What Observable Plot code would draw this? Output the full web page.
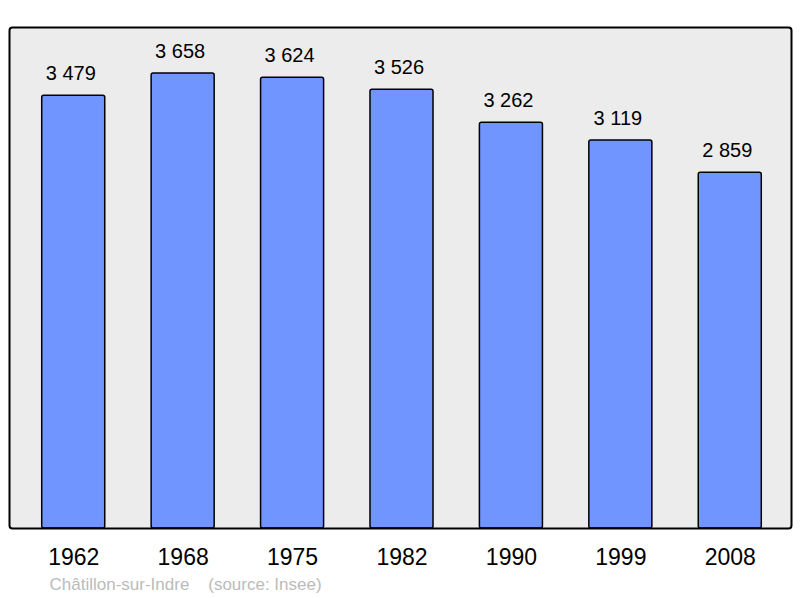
<!DOCTYPE html>
<html>
<head>
<meta charset="utf-8">
<script src="https://cdn.jsdelivr.net/npm/d3@7"></script>
<script src="https://cdn.jsdelivr.net/npm/@observablehq/plot@0.6"></script>
<style>
  html, body { margin: 0; padding: 0; background: #ffffff; }
  body { width: 800px; height: 598px; overflow: hidden; }
  svg { display: block; }
</style>
</head>
<body>
<div id="chart"></div>
<script>
const years = ["1962", "1968", "1975", "1982", "1990", "1999", "2008"];
const population = [3479, 3658, 3624, 3526, 3262, 3119, 2859];
const captionText = "Châtillon-sur-Indre\u00a0\u00a0\u00a0\u00a0(source: Insee)";

const data = years.map((y, i) => ({year: y, value: population[i]}));
const fmt = d3.formatLocale({thousands: "\u00a0", grouping: [3], decimal: ","}).format(",d");

const chart = Plot.plot({
  width: 800,
  height: 598,
  marginLeft: 9,
  marginRight: 9,
  marginTop: 27,
  marginBottom: 70,
  style: {fontFamily: "'Liberation Sans', Arial, sans-serif", background: "#ffffff"},
  x: {domain: years, range: [9, 794], round: false, paddingInner: 0.424, paddingOuter: 0.299, align: 0.5, label: null},
  y: {domain: [0, 4027], axis: null},
  marks: [
    Plot.frame({fill: "#ececec", stroke: "none"}),
    Plot.barY(data, {x: "year", y: "value", fill: "#7095ff", stroke: "#000000", strokeWidth: 1.5, rx: 2}),
    Plot.text(data, {x: "year", y: "value", text: d => fmt(d.value), dx: -3, dy: -22, fontSize: 20, fill: "#000000"}),
    Plot.frame({stroke: "#000000", strokeWidth: 2, rx: 3}),
    Plot.axisX({tickSize: 0, tickPadding: 20, fontSize: 23, fill: "#000000", label: null}),
    Plot.text([captionText], {frameAnchor: "bottom-left", text: d => d, dx: 40, dy: 61, fontSize: 17, fill: "#bbbbbb", textAnchor: "start"})
  ]
});
document.getElementById("chart").appendChild(chart);
</script>
</body>
</html>
